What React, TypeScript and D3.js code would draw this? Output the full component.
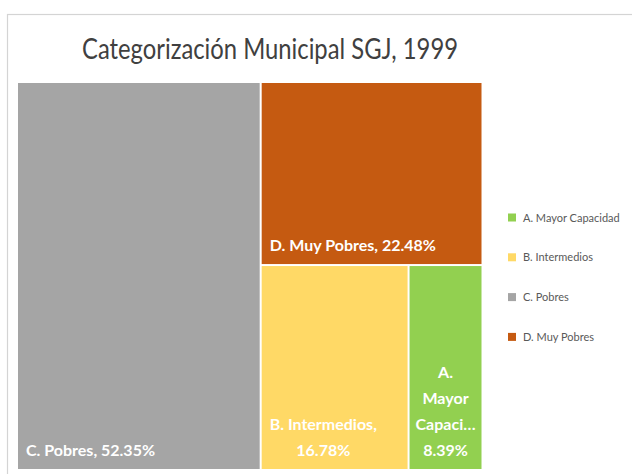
import React, { useMemo } from "react";
import * as d3 from "d3";

const categories = ["A. Mayor Capacidad", "B. Intermedios", "C. Pobres", "D. Muy Pobres"];
const shares = [8.39, 16.78, 52.35, 22.48];
const colors = ["#92D050", "#FFD966", "#A5A5A5", "#C55A11"];
const labelLines: string[][] = [
  ["A.", "Mayor", "Capaci…", "8.39%"],
  ["B. Intermedios,", "16.78%"],
  ["C. Pobres, 52.35%"],
  ["D. Muy Pobres, 22.48%"],
];
const title = "Categorización Municipal SGJ, 1999";

const W = 632;
const H = 474;
const MAP = { x: 18, y: 83, w: 463.5, h: 386 };
const LABEL_FONT = "bold 16px Lato";

let ctx: CanvasRenderingContext2D | null = null;
function measure(t: string, font: string) {
  if (!ctx) ctx = document.createElement("canvas").getContext("2d");
  if (!ctx) return t.length * 8;
  ctx.font = font;
  return ctx.measureText(t).width;
}

export default function App() {
  const leaves = useMemo(() => {
    const data = {
      name: "root",
      children: categories.map((c, i) => ({ name: c, value: shares[i], idx: i })),
    };
    const root = d3
      .hierarchy<any>(data)
      .sum((d: any) => d.value || 0)
      .sort((a, b) => (b.value || 0) - (a.value || 0));
    d3.treemap<any>()
      .tile(d3.treemapSquarify.ratio(1))
      .size([MAP.w, MAP.h])
      .paddingInner(2)(root);
    return root.leaves() as d3.HierarchyRectangularNode<any>[];
  }, []);

  return (
    <svg
      width={W}
      height={H}
      style={{ position: "absolute", left: 0, top: 0, background: "#fff" }}
    >
      <rect x={7.5} y={14.5} width={700} height={500} fill="#fff" stroke="#d4d4d4" strokeWidth={1.2} />
      <text
        x={270}
        y={59}
        textAnchor="middle"
        fontFamily="Lato"
        fontSize={28}
        fill="#404040"
        textLength={376}
        lengthAdjust="spacingAndGlyphs"
      >
        {title}
      </text>
      <g transform={`translate(${MAP.x},${MAP.y})`}>
        {leaves.map((n) => {
          const i = n.data.idx;
          const lines = labelLines[i];
          const tw = n.x1 - n.x0;
          const widths = lines.map((l) => measure(l, LABEL_FONT));
          const maxW = d3.max(widths) || 0;
          const multiCentered = maxW > tw - 16;
          const cx = multiCentered ? (n.x0 + n.x1) / 2 : n.x0 + 8 + maxW / 2;
          const lastY = n.y1 - 13;
          return (
            <g key={i}>
              <rect x={n.x0} y={n.y0} width={tw} height={n.y1 - n.y0} fill={colors[i]} />
              {lines.map((l, k) => (
                <text
                  key={k}
                  x={lines.length === 1 ? n.x0 + 8 : cx}
                  y={lastY - (lines.length - 1 - k) * 26}
                  textAnchor={lines.length === 1 ? "start" : "middle"}
                  fontFamily="Lato"
                  fontWeight="bold"
                  fontSize={16}
                  fill="#fff"
                >
                  {l}
                </text>
              ))}
            </g>
          );
        })}
      </g>
      <g>
        {categories.map((c, i) => {
          const cy = 217.5 + i * 39.8;
          return (
            <g key={c}>
              <rect x={508} y={cy - 4} width={8} height={8} fill={colors[i]} />
              <text x={523} y={cy + 4} fontFamily="Lato" fontSize={11} fill="#595959">
                {c}
              </text>
            </g>
          );
        })}
      </g>
    </svg>
  );
}
